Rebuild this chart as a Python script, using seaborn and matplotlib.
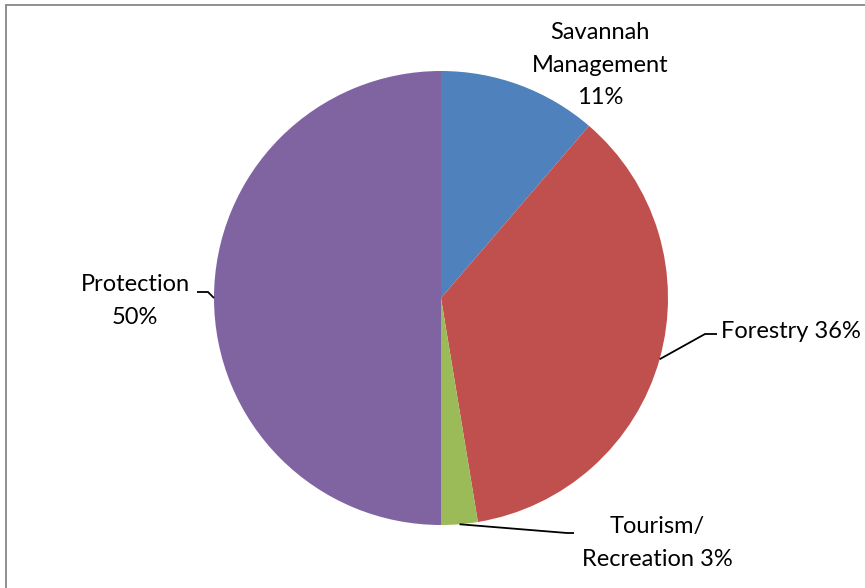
import matplotlib
matplotlib.use("Agg")
import matplotlib.pyplot as plt
from matplotlib.lines import Line2D
import numpy as np
import seaborn as sns

# Land-use shares (percent of area)
categories = ["Savannah\nManagement", "Forestry", "Tourism/\nRecreation", "Protection"]
shares = [11.3, 36.1, 2.6, 50.0]
label_sep = ["\n", " ", " ", "\n"]
colors = ["#4F81BD", "#C0504D", "#9BBB59", "#8064A2"]

sns.set_theme(style="white")
plt.rcParams["font.family"] = ["Lato", "DejaVu Sans"]

W, H = 865, 588
fig = plt.figure(figsize=(W / 100, H / 100), dpi=100)
fig.patch.set_facecolor("white")

cx, cy, r = 441, 298, 227
ax = fig.add_axes([(cx - r) / W, 1 - (cy + r) / H, 2 * r / W, 2 * r / H])
wedges, _ = ax.pie(shares, colors=colors, startangle=90, counterclock=False,
                   radius=1, wedgeprops=dict(linewidth=0))
ax.set_xlim(-1, 1)
ax.set_ylim(-1, 1)
ax.set_aspect("equal")
ax.axis("off")


def px(x, y):
    """Pixel position -> pie data coordinates."""
    return (x - cx) / r, (cy - y) / r


labels = [f"{c}{s}{round(v)}%" for c, s, v in zip(categories, label_sep, shares)]

# label anchor (pixel), alignment, leader path (knee, end) in pixels or None
placement = [
    ((600, 65), "center", None),
    ((721, 331), "left", [(705, 334), (717, 334)]),
    ((657, 543), "center", [(567, 533), (574, 533)]),
    ((135, 301), "center", [(208, 292), (197, 292)]),
]

for w, lab, (pos, ha, path) in zip(wedges, labels, placement):
    tx, ty = px(*pos)
    ax.text(tx, ty, lab, ha=ha, va="center", multialignment="center",
            fontsize=17, color="black", linespacing=1.7, clip_on=False)
    if path is not None:
        mid = np.deg2rad((w.theta1 + w.theta2) / 2)
        xs = [np.cos(mid)] + [px(*p)[0] for p in path]
        ys = [np.sin(mid)] + [px(*p)[1] for p in path]
        ax.plot(xs, ys, color="black", lw=1.3, clip_on=False,
                solid_capstyle="butt", solid_joinstyle="miter")

# chart area frame
frame_kw = dict(transform=fig.transFigure, color="#878787", lw=1.3)
fig.add_artist(Line2D([6 / W, 6 / W], [0, 1 - 5 / H], **frame_kw))
fig.add_artist(Line2D([6 / W, 1], [1 - 5 / H, 1 - 5 / H], **frame_kw))

fig.savefig("out.png", dpi=100, facecolor="white")
